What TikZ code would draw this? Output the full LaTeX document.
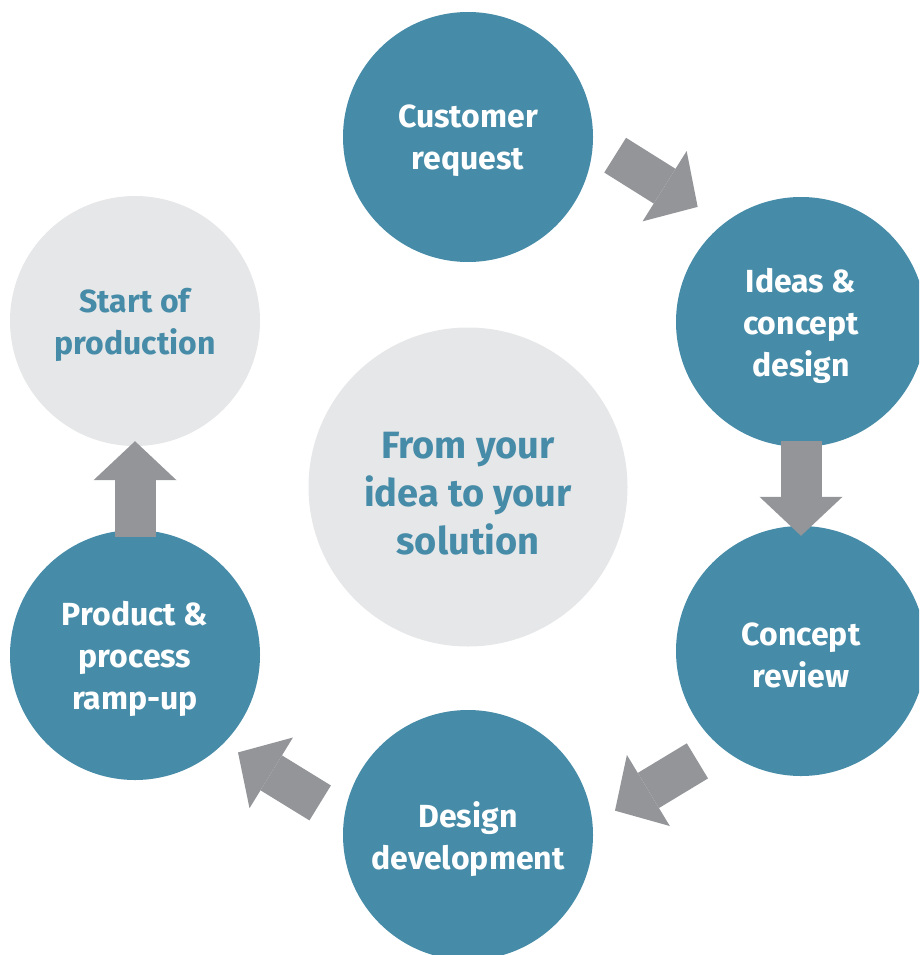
\documentclass[tikz,border=0pt]{standalone}
\usepackage{fontspec}
\setmainfont{Fira Sans}
\usetikzlibrary{arrows.meta}
\definecolor{stageblue}{RGB}{70,139,167}
\definecolor{stagegrey}{RGB}{230,231,232}
\definecolor{flowgrey}{RGB}{147,149,152}
\tikzset{
	stagetext/.style={align=center, text=white, yshift=-4pt,
			font=\fontsize{32}{42}\selectfont\bfseries},
	stage/.style={circle, fill=stageblue, minimum size=250pt, inner sep=0pt,
			label={[stagetext]center:#1}},
	stageoff/.style={circle, fill=stagegrey, minimum size=250pt, inner sep=0pt,
			label={[stagetext, text=stageblue]center:#1}},
	flow/.style={line width=41pt, draw=flowgrey,
			-{Triangle[width=83pt, length=39pt, line width=0pt, fill=flowgrey]}}
}

\begin{document}
\begin{tikzpicture}[x=1pt, y=-1pt]
	\useasboundingbox (0,0) rectangle (919,955);
	\clip (0,0) rectangle (919,955);
	\node[stage={Customer\\request}] (cust) at (468,137) {};
	\node[stage={Ideas \&\\concept\\design}] (ideas) at (801,322) {};
	\node[stage={Concept\\review}] (review) at (801,651) {};
	\node[stage={Design\\development}] (design) at (468,835) {};
	\node[stage={Product \&\\process\\ramp-up}] (product) at (135,655) {};
	\node[stageoff={Start of\\production}] (start) at (135,321) {};
	\node[circle, fill=stagegrey, minimum size=319pt,
		label={[stagetext, text=stageblue, yshift=-3pt, font=\fontsize{38}{48}\selectfont\bfseries]center:From your\\idea to your\\solution}] (idea) at (468,487) {};
	% arrows round the cycle
	\draw[flow, shorten <=26pt, shorten >=31pt] (cust.-2.5) -- (ideas.128);
	\draw[flow, shorten <=-6pt, shorten >=-10pt] (ideas.south) -- (review.north);
	\draw[flow, shorten <=27pt, shorten >=26pt] (review.230) -- (design.5);
	\draw[flow, shorten <=28pt, shorten >=17pt] (design.172) -- (product.-45);
	\draw[flow, shorten <=-7pt, shorten >=-5pt] (product.north) -- (start.south);
\end{tikzpicture}
\end{document}
